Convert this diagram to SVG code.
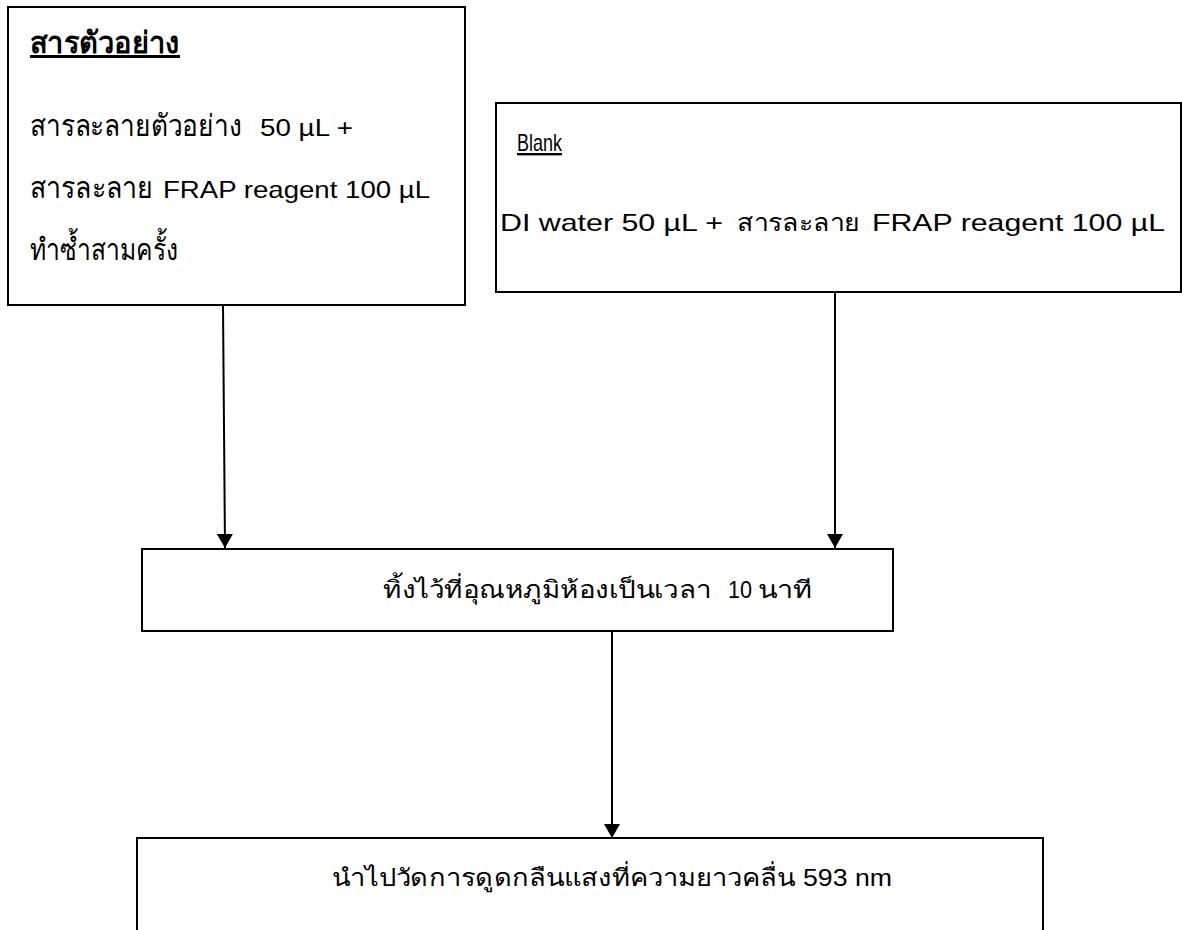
<svg xmlns="http://www.w3.org/2000/svg" width="1182" height="930" viewBox="0 0 1182 930">
  <style>
    .box { fill: #ffffff; stroke: #000000; stroke-width: 2; }
    .t { font-family: "Liberation Sans", "Noto Sans", "DejaVu Sans", sans-serif; font-size: 24px; fill: #000000; }
    .th { font-size: 30px; }
    .b { font-weight: bold; }
    .u { text-decoration: underline; }
    .conn { stroke: #000000; stroke-width: 2; fill: none; marker-end: url(#arrow); }
  </style>
  <defs>
    <marker id="arrow" viewBox="0 0 14 16" refX="14" refY="8" markerWidth="14" markerHeight="16" markerUnits="userSpaceOnUse" orient="auto">
      <path d="M0,0 L14,8 L0,16 Z" fill="#000000"/>
    </marker>
  </defs>
  <rect width="1182" height="930" fill="#ffffff"/>

  <g id="connectors">
    <line class="conn" x1="223" y1="306" x2="225" y2="548"/>
    <line class="conn" x1="835" y1="292" x2="835" y2="548"/>
    <line class="conn" x1="612" y1="631" x2="612" y2="838"/>
  </g>

  <g id="sample">
    <rect class="box" x="8" y="7" width="457" height="298"/>
    <text class="t th b u" x="30" y="53" textLength="150" lengthAdjust="spacingAndGlyphs">สารตัวอย่าง</text>
    <text class="t" x="30" y="136" lengthAdjust="spacingAndGlyphs"><tspan class="th" textLength="212" lengthAdjust="spacingAndGlyphs">สารละลายตัวอย่าง</tspan><tspan x="260" textLength="93" lengthAdjust="spacingAndGlyphs">50 µL +</tspan></text>
    <text class="t th" x="30" y="198" textLength="123" lengthAdjust="spacingAndGlyphs">สารละลาย</text>
    <text class="t" x="163" y="198" textLength="267" lengthAdjust="spacingAndGlyphs">FRAP reagent 100 µL</text>
    <text class="t th" x="30" y="260" textLength="148" lengthAdjust="spacingAndGlyphs">ทำซ้ำสามครั้ง</text>
  </g>

  <g id="blank">
    <rect class="box" x="496" y="103" width="685" height="189"/>
    <text class="t u" x="517" y="151" font-size="22" textLength="45" lengthAdjust="spacingAndGlyphs">Blank</text>
    <text class="t" x="500" y="231" font-size="28" textLength="223" lengthAdjust="spacingAndGlyphs">DI water 50 µL +</text>
    <text class="t" x="737" y="231" font-size="29" textLength="123" lengthAdjust="spacingAndGlyphs">สารละลาย</text>
    <text class="t" x="872" y="231" font-size="28" textLength="293" lengthAdjust="spacingAndGlyphs">FRAP reagent 100 µL</text>
  </g>

  <g id="incubate">
    <rect class="box" x="142" y="549" width="751" height="82"/>
    <text class="t" x="383" y="598" font-size="29" textLength="328" lengthAdjust="spacingAndGlyphs">ทิ้งไว้ที่อุณหภูมิห้องเป็นเวลา</text>
    <text class="t" x="728" y="598" font-size="27" textLength="24" lengthAdjust="spacingAndGlyphs">10</text>
    <text class="t" x="758" y="598" font-size="29" textLength="54" lengthAdjust="spacingAndGlyphs">นาที</text>
  </g>

  <g id="measure">
    <rect class="box" x="137" y="838" width="906" height="110"/>
    <text class="t" x="332" y="886" font-size="29" textLength="463" lengthAdjust="spacingAndGlyphs">นำไปวัดการดูดกลืนแสงที่ความยาวคลื่น</text>
    <text class="t" x="803" y="886" font-size="29" textLength="89" lengthAdjust="spacingAndGlyphs">593 nm</text>
  </g>
</svg>
